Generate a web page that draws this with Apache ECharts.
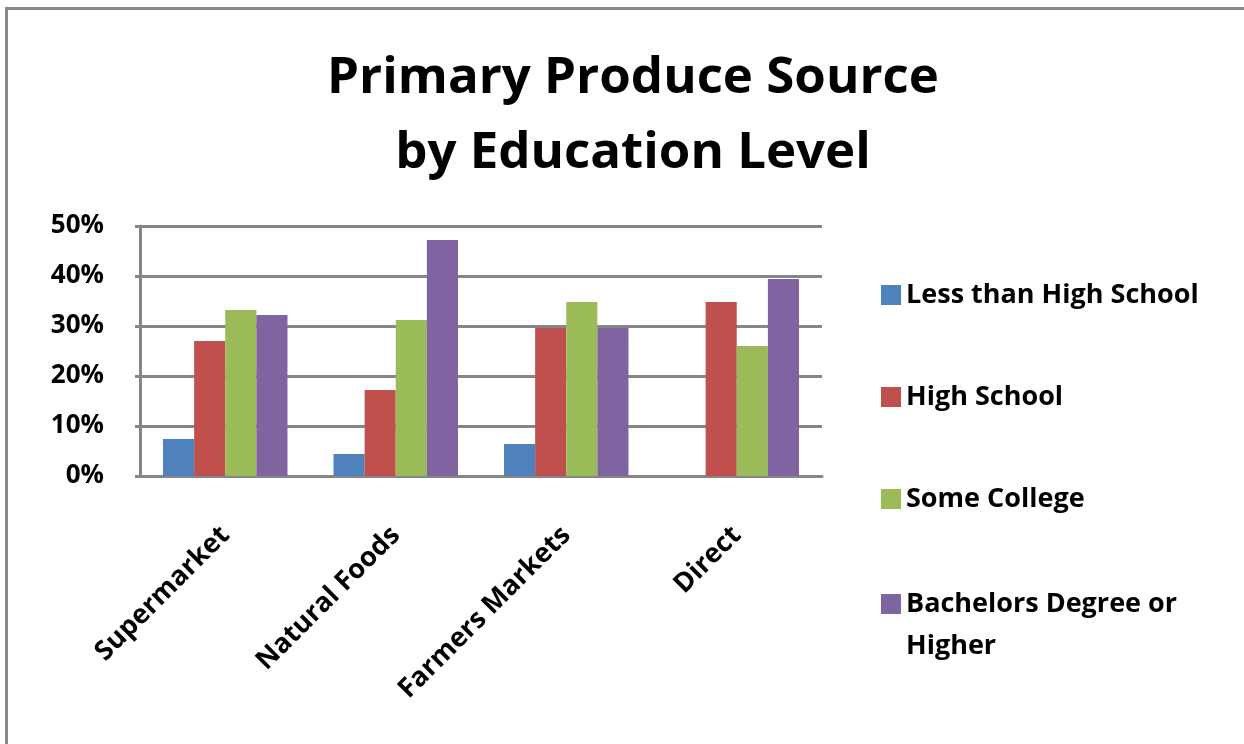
<!DOCTYPE html>
<html><head><meta charset="utf-8">
<script src="https://cdn.jsdelivr.net/npm/echarts@6/dist/echarts.min.js"></script>
<style>html,body{margin:0;padding:0;background:#fff}#c{width:1244px;height:744px}</style>
</head><body><div id="c"></div>
<script>
const categories = ['Supermarket', 'Natural Foods', 'Farmers Markets', 'Direct'];
const seriesNames = ['Less than High School', 'High School', 'Some College', 'Bachelors Degree or Higher'];
const lessThanHS = [7.4, 4.4, 6.4, 0];
const highSchool = [27.0, 17.2, 29.6, 34.8];
const someCollege = [33.2, 31.2, 34.8, 26.0];
const bachelors = [32.2, 47.2, 29.6, 39.4];
const yTicks = [0, 10, 20, 30, 40, 50];

const colors = ['#4F81BD', '#C0504D', '#9BBB59', '#8064A2'];
const values = [lessThanHS, highSchool, someCollege, bachelors];
const font = '"Open Sans", "Liberation Sans", sans-serif';
const chart = echarts.init(document.getElementById('c'));
chart.setOption({
  animation: false,
  backgroundColor: '#fff',
  color: colors,
  title: {
    text: 'Primary Produce Source\nby Education Level',
    left: 628, top: 36, textAlign: 'center',
    textStyle: {fontFamily: font, fontWeight: 'bold', fontSize: 51, lineHeight: 75, color: '#000'}
  },
  graphic: [{type: 'rect', left: 4, top: 6, shape: {width: 1400, height: 900},
    style: {fill: 'none', stroke: '#888', lineWidth: 3}}],
  legend: [{
    orient: 'vertical', left: 876, top: 269, itemWidth: 20, itemHeight: 20, itemGap: 60,
    icon: 'rect', data: seriesNames.slice(0, 3),
    textStyle: {fontFamily: font, fontWeight: 'bold', fontSize: 27, lineHeight: 42, color: '#000'}
  }, {
    orient: 'vertical', left: 876, top: 536, itemWidth: 20, itemHeight: 20,
    icon: 'rect', data: [seriesNames[3]],
    formatter: () => '\nBachelors Degree or\nHigher',
    textStyle: {fontFamily: font, fontWeight: 'bold', fontSize: 27, lineHeight: 42, color: '#000'}
  }],
  grid: {left: 140, right: 422, top: 226, bottom: 268, containLabel: false},
  xAxis: {
    type: 'category', data: categories,
    axisLine: {show: true, lineStyle: {color: '#868686', width: 3}},
    axisTick: {show: false},
    axisLabel: {rotate: 45, margin: 55, interval: 0, fontFamily: font, fontWeight: 'bold', fontSize: 27, color: '#000'}
  },
  yAxis: {
    type: 'value', min: yTicks[0], max: yTicks[yTicks.length - 1], interval: 10,
    axisLine: {show: true, lineStyle: {color: '#868686', width: 3}},
    axisTick: {show: true, length: 5, lineStyle: {color: '#868686', width: 3}},
    splitLine: {show: true, lineStyle: {color: '#868686', width: 3}},
    axisLabel: {margin: 36, formatter: v => v + '%', fontFamily: font, fontWeight: 'bold', fontSize: 26, color: '#000'}
  },
  series: seriesNames.map((n, i) => ({
    name: n, type: 'bar', data: values[i], barGap: '0%', barCategoryGap: '27%',
    itemStyle: {color: colors[i]}
  }))
});
</script></body></html>
